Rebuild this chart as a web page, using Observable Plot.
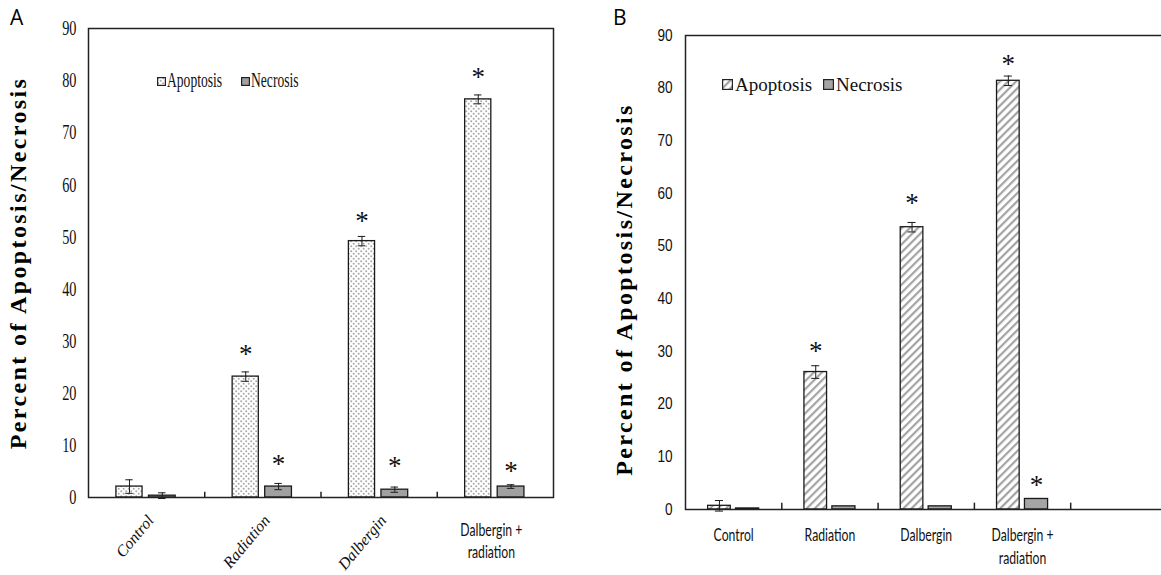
<!DOCTYPE html>
<html><head><meta charset="utf-8">
<script src="https://cdn.jsdelivr.net/npm/d3@7"></script>
<script src="https://cdn.jsdelivr.net/npm/@observablehq/plot@0.6"></script>
<style>
html,body{margin:0;padding:0;background:#fff;}
body{width:1161px;height:575px;overflow:hidden;position:relative;}
.panel{position:absolute;top:0;}
.panel svg{max-width:none !important;display:block;}
.plabel{position:absolute;font-family:"Open Sans","Liberation Sans",sans-serif;font-size:21px;line-height:21px;color:#000;}
.lg{position:absolute;font-family:"Liberation Serif","Times New Roman",serif;color:#111;white-space:nowrap;}
.lg.sq{transform:scaleX(0.68);transform-origin:left top;}
.sw{position:absolute;}
</style></head><body>
<svg width="0" height="0" style="position:absolute">
<defs>
<pattern id="dotsA" patternUnits="userSpaceOnUse" width="5" height="5">
<rect width="5" height="5" fill="#fff"/>
<circle cx="1.2" cy="1.2" r="1" fill="#a9a9a9"/>
<circle cx="3.7" cy="3.7" r="1" fill="#a9a9a9"/>
</pattern>
<pattern id="hatchB" patternUnits="userSpaceOnUse" width="5.7" height="10" patternTransform="rotate(45)">
<rect width="5.7" height="10" fill="#fff"/>
<line x1="1.2" y1="0" x2="1.2" y2="10" stroke="#9a9a9a" stroke-width="2"/>
</pattern>
</defs></svg>

<div id="panelA" class="panel" style="left:0px;width:580px"></div>
<div id="panelB" class="panel" style="left:580px;width:600px"></div>

<div class="plabel" style="left:10px;top:7px;">A</div>
<div class="plabel" style="left:613px;top:7px;">B</div>

<svg class="sw" style="left:157px;top:77px" width="9" height="9"><rect x="0.6" y="0.6" width="7.8" height="7.8" fill="url(#dotsA)" stroke="#222" stroke-width="1.2"/></svg>
<div class="lg sq" style="left:167px;top:70px;font-size:20px;line-height:20px;">Apoptosis</div>
<svg class="sw" style="left:241px;top:77px" width="9" height="9"><rect x="0.6" y="0.6" width="7.8" height="7.8" fill="#a0a0a0" stroke="#222" stroke-width="1.2"/></svg>
<div class="lg sq" style="left:251px;top:70px;font-size:20px;line-height:20px;">Necrosis</div>

<svg class="sw" style="left:722px;top:79px" width="11" height="11"><rect x="0.6" y="0.6" width="9.8" height="9.8" fill="url(#hatchB)" stroke="#222" stroke-width="1.2"/></svg>
<div class="lg" style="left:735px;top:75px;font-size:19px;line-height:19px;">Apoptosis</div>
<svg class="sw" style="left:823px;top:79px" width="11" height="11"><rect x="0.6" y="0.6" width="9.8" height="9.8" fill="#a5a5a5" stroke="#222" stroke-width="1.2"/></svg>
<div class="lg" style="left:836px;top:75px;font-size:19px;line-height:19px;">Necrosis</div>

<script>
// ---- data ----
const categories = ["Control", "Radiation", "Dalbergin", "Dalbergin +\nradiation"];
const seriesNames = ["Apoptosis", "Necrosis"];
const yTicks = [0, 10, 20, 30, 40, 50, 60, 70, 80, 90];
const yTitle = "Percent of Apoptosis/Necrosis";

// Panel A
const apoptosisA = [2.1, 23.2, 49.2, 76.4];
const apoptosisErrA = [1.3, 0.9, 0.9, 0.85];
const necrosisA = [0.35, 2.1, 1.5, 2.1];
const necrosisErrA = [0.55, 0.6, 0.5, 0.35];
const apoptosisStarA = [null, 28.4, 54.0, 81.5];
const necrosisStarA = [null, 7.3, 7.0, 6.0];

// Panel B
const apoptosisB = [0.7, 26.1, 53.6, 81.4];
const apoptosisErrB = [1.0, 1.2, 0.9, 0.9];
const necrosisB = [0.2, 0.6, 0.6, 2.0];
const necrosisErrB = [0, 0, 0, 0];
const apoptosisStarB = [null, 30.9, 59.0, 85.4];
const necrosisStarB = [null, null, null, 5.5];

function drawPanel(cfg) {
  const rows = [];
  categories.forEach((cat, i) => {
    rows.push({i, cat, series: seriesNames[0], value: cfg.apo[i], err: cfg.apoErr[i], star: cfg.apoStar[i]});
    rows.push({i, cat, series: seriesNames[1], value: cfg.nec[i], err: cfg.necErr[i], star: cfg.necStar[i]});
  });
  const lo = d => d.i + cfg.span[d.series][0];
  const hi = d => d.i + cfg.span[d.series][1];
  const mid = d => (lo(d) + hi(d)) / 2;
  const withErr = rows.filter(d => d.err > 0);
  const withStar = rows.filter(d => d.star != null);
  const catRows = categories.map((cat, i) => ({i, cat}));
  const ink = "#1a1a1a";

  const svg = Plot.plot({
    width: cfg.width, height: 575,
    marginLeft: cfg.mL, marginRight: cfg.mR, marginTop: cfg.mT, marginBottom: cfg.mB,
    style: {background: "transparent", overflow: "visible"},
    x: {type: "linear", domain: [0, cfg.nBands], axis: null},
    y: {domain: [0, 90]},
    color: {type: "identity"},
    marks: [
      Plot.axisY({ticks: yTicks, tickSize: 0, tickPadding: cfg.tickPad, label: null,
        fontSize: cfg.tickFont, fontFamily: cfg.tickFamily, fill: "#111"}),
      Plot.rect(rows, {x1: lo, x2: hi, y1: 0, y2: "value",
        fill: d => cfg.fills[d.series], stroke: ink, strokeWidth: 1.3}),
      Plot.ruleX(withErr, {x: mid, y1: d => d.value - d.err, y2: d => d.value + d.err, stroke: ink, strokeWidth: 1}),
      Plot.ruleY(withErr, {y: d => d.value + d.err, x1: d => mid(d) - cfg.cap, x2: d => mid(d) + cfg.cap, stroke: ink, strokeWidth: 1}),
      Plot.ruleY(withErr, {y: d => d.value - d.err, x1: d => mid(d) - cfg.cap, x2: d => mid(d) + cfg.cap, stroke: ink, strokeWidth: 1}),
      Plot.text(withStar, {x: mid, y: "star", text: () => "*", fontSize: 27,
        fontFamily: "Liberation Serif", fill: "#111", lineAnchor: "middle", dy: 5}),
      Plot.ruleX(d3.range(1, cfg.nBands), {y1: 0, y2: cfg.tickLen, stroke: "#222", strokeWidth: 1.5}),
      Plot.frame({stroke: "#222", strokeWidth: 1.5}),
      ...cfg.labelMarks(catRows),
      Plot.text([yTitle], {text: d => d, frameAnchor: "left", textAnchor: "middle", lineAnchor: "middle",
        rotate: -90, dx: cfg.titleDx, dy: cfg.titleDy,
        fontWeight: "bold", fontFamily: "Liberation Serif", fontSize: 24, fill: "#000", className: "ytitle"})
    ]
  });
  svg.style.maxWidth = "none";
  const s = d3.select(svg);
  s.selectAll('g[aria-label="y-axis tick label"] text').each(function() {
    this.setAttribute("transform", (this.getAttribute("transform") || "") + ` scale(${cfg.tickScale},1)`);
  });
  s.selectAll(".sqz text").each(function() {
    this.setAttribute("transform", (this.getAttribute("transform") || "") + " scale(0.72,1)");
  });
  s.selectAll(".ytitle text").style("letter-spacing", "2.4px");
  return svg;
}

const sansFamily = "Liberation Sans";
const labelFamily = "Lato";

document.getElementById("panelA").append(drawPanel({
  width: 580, mL: 88, mR: 27, mT: 28, mB: 78, nBands: 4,
  apo: apoptosisA, apoErr: apoptosisErrA, nec: necrosisA, necErr: necrosisErrA,
  apoStar: apoptosisStarA, necStar: necrosisStarA,
  span: {Apoptosis: [0.24, 0.465], Necrosis: [0.52, 0.75]},
  fills: {Apoptosis: "url(#dotsA)", Necrosis: "#a0a0a0"},
  cap: 0.032, tickLen: 1.0,
  tickPad: 12, tickFont: 21, tickFamily: "Liberation Serif", tickScale: 0.68,
  titleDx: -70, titleDy: 0,
  labelMarks: rows => [
    Plot.text(rows.slice(0, 3), {x: d => d.i + 0.5, text: "cat", frameAnchor: "bottom", rotate: -50,
      textAnchor: "end", lineAnchor: "middle", dx: 4, dy: 20, fontStyle: "italic",
      fontFamily: "Liberation Serif", fontSize: 16, fill: "#111"}),
    Plot.text(rows.slice(3), {x: d => d.i + 0.5, text: "cat", frameAnchor: "bottom", lineAnchor: "top",
      dx: -4, dy: 23, lineHeight: 1.3, fontFamily: labelFamily, fontSize: 17, fill: "#111", className: "sqz"})
  ]
}));

document.getElementById("panelB").append(drawPanel({
  width: 600, mL: 105, mR: 13.5, mT: 35, mB: 66, nBands: 5,
  apo: apoptosisB, apoErr: apoptosisErrB, nec: necrosisB, necErr: necrosisErrB,
  apoStar: apoptosisStarB, necStar: necrosisStarB,
  span: {Apoptosis: [0.235, 0.47], Necrosis: [0.525, 0.765]},
  fills: {Apoptosis: "url(#hatchB)", Necrosis: "#a5a5a5"},
  cap: 0.042, tickLen: 1.2,
  tickPad: 13, tickFont: 16, tickFamily: sansFamily, tickScale: 0.85,
  titleDx: -61, titleDy: 17,
  labelMarks: rows => [
    Plot.text(rows, {x: d => d.i + 0.5, text: "cat", frameAnchor: "bottom", lineAnchor: "top",
      dy: 15, lineHeight: 1.35, fontFamily: labelFamily, fontSize: 17, fill: "#111", className: "sqz"})
  ]
}));
</script>
</body></html>
